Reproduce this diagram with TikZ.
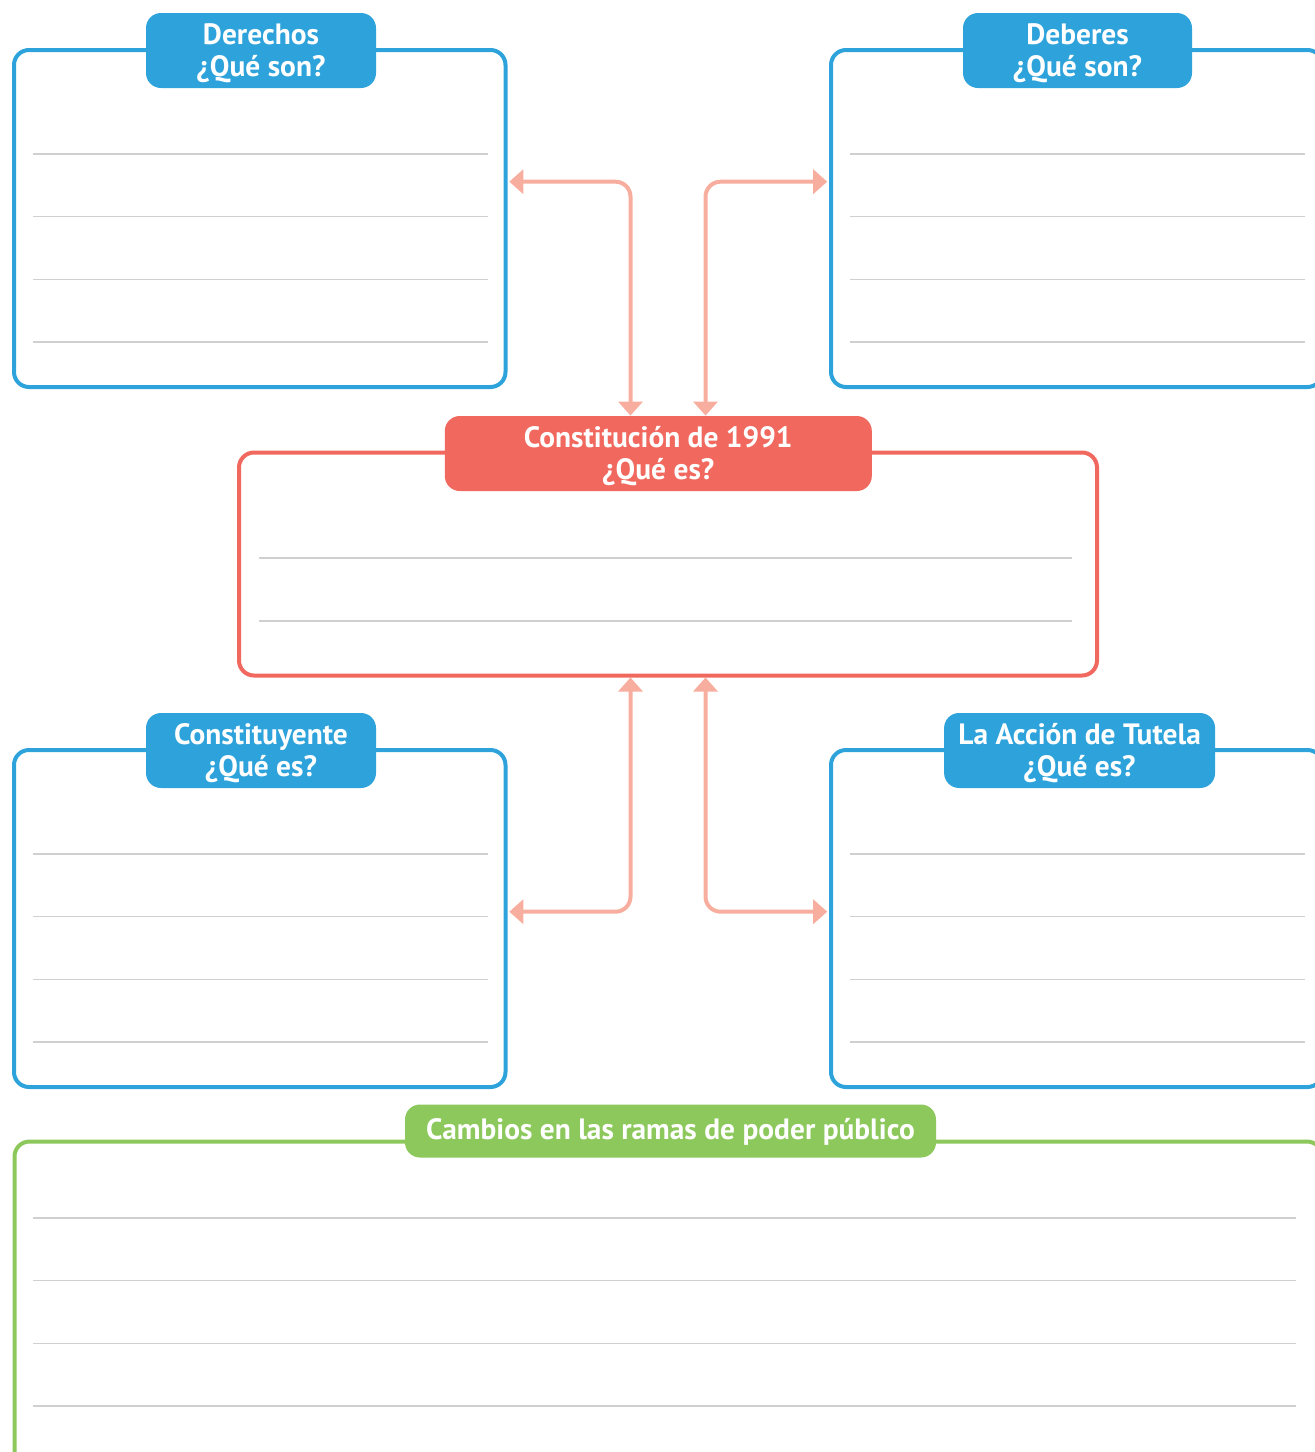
\documentclass[tikz,border=0pt]{standalone}
\usepackage{fontspec}
\setmainfont{PT Sans}
\usetikzlibrary{arrows.meta}
\definecolor{azul}{RGB}{46,163,219}
\definecolor{rojo}{RGB}{241,105,94}
\definecolor{salmon}{RGB}{248,174,159}
\definecolor{verde}{RGB}{140,200,91}
\definecolor{linea}{RGB}{208,208,208}
\tikzset{
  box/.style={draw=#1, line width=2pt, rounded corners=7.5pt, inner sep=0pt},
  tab/.style={fill=#1, rounded corners=7.5pt, inner sep=0pt},
  lab/.style={text=white, align=center, inner sep=0pt, yshift=-1.5pt,
    font=\bfseries\fontsize{14.7}{16}\selectfont},
  rule/.style={draw=linea, line width=0.65pt},
  link/.style={draw=salmon, line width=2pt, rounded corners=7.5pt,
    {Triangle[width=12pt,length=7pt]}-{Triangle[width=12pt,length=7pt]}},
}

\begin{document}
\begin{tikzpicture}[x=0.5pt, y=-0.5pt]
			%%%%% START %%%%%
			\useasboundingbox (0,0) rectangle (1315,1452);
			\clip (0,0) rectangle (1315,1452);
			
			\node[box=azul, minimum width=245.75pt, minimum height=168.5pt] (der) at (259.75,218.5) {};
			\node[box=azul, minimum width=245.75pt, minimum height=168.5pt] (deb) at (1076.75,218.5) {};
			\node[box=rojo, minimum width=429pt, minimum height=111.5pt] (cons) at (668,564) {};
			\node[box=azul, minimum width=245.75pt, minimum height=168.5pt] (cyt) at (259.75,918.5) {};
			\node[box=azul, minimum width=245.75pt, minimum height=168.5pt] (tut) at (1076.75,918.5) {};
			\node[box=verde, minimum width=653.75pt, minimum height=166.75pt] (cam) at (668.25,1308.25) {};
			
			\foreach \y in {154,216.7,279.3,342} {
				\draw[rule] (33,\y) -- (488,\y);
				\draw[rule] (850,\y) -- (1305,\y);
				\draw[rule] (33,\y+700) -- (488,\y+700);
				\draw[rule] (850,\y+700) -- (1305,\y+700);
				\draw[rule] (33,\y+1064) -- (1296,\y+1064);
			}
			\draw[rule] (259,558) -- (1072,558);
			\draw[rule] (259,621) -- (1072,621);
			
			\node[tab=azul, minimum width=115pt, minimum height=37.5pt,
				label={[lab, name=derlab]center:{Derechos\\¿Qué son?}}] (dertab) at (261,50.5) {};
			\node[tab=azul, minimum width=114.5pt, minimum height=37.5pt,
				label={[lab, name=deblab]center:{Deberes\\¿Qué son?}}] (debtab) at (1077.5,50.5) {};
			\node[tab=rojo, minimum width=213.5pt, minimum height=37.5pt,
				label={[lab, name=conslab]center:{Constitución de 1991\\¿Qué es?}}] (constab) at (658.3,453.5) {};
			\node[tab=azul, minimum width=115pt, minimum height=37.5pt,
				label={[lab, name=cytlab]center:{Constituyente\\¿Qué es?}}] (cyttab) at (261,750.5) {};
			\node[tab=azul, minimum width=135.5pt, minimum height=37.5pt,
				label={[lab, name=tutlab]center:{La Acción de Tutela\\¿Qué es?}}] (tuttab) at (1079.6,750.5) {};
			\node[tab=verde, minimum width=265.5pt, minimum height=26.5pt,
				label={[lab, yshift=1pt, name=camlab]center:{Cambios en las ramas de poder público}}] (camtab) at (670.5,1131) {};
			
			\draw[link] (constab.north -| 630.5,0) |- ([shift={(1.8,-36.8)}]der.east);
			\draw[link] (constab.north -| 705.5,0) |- ([shift={(-1.8,-36.8)}]deb.west);
			\draw[link] (cons.south -| 630.5,0) |- ([shift={(1.8,-6.8)}]cyt.east);
			\draw[link] (cons.south -| 705.5,0) |- ([shift={(-1.8,-6.8)}]tut.west);
			
			%%%%% END %%%%%
\end{tikzpicture}
\end{document}
